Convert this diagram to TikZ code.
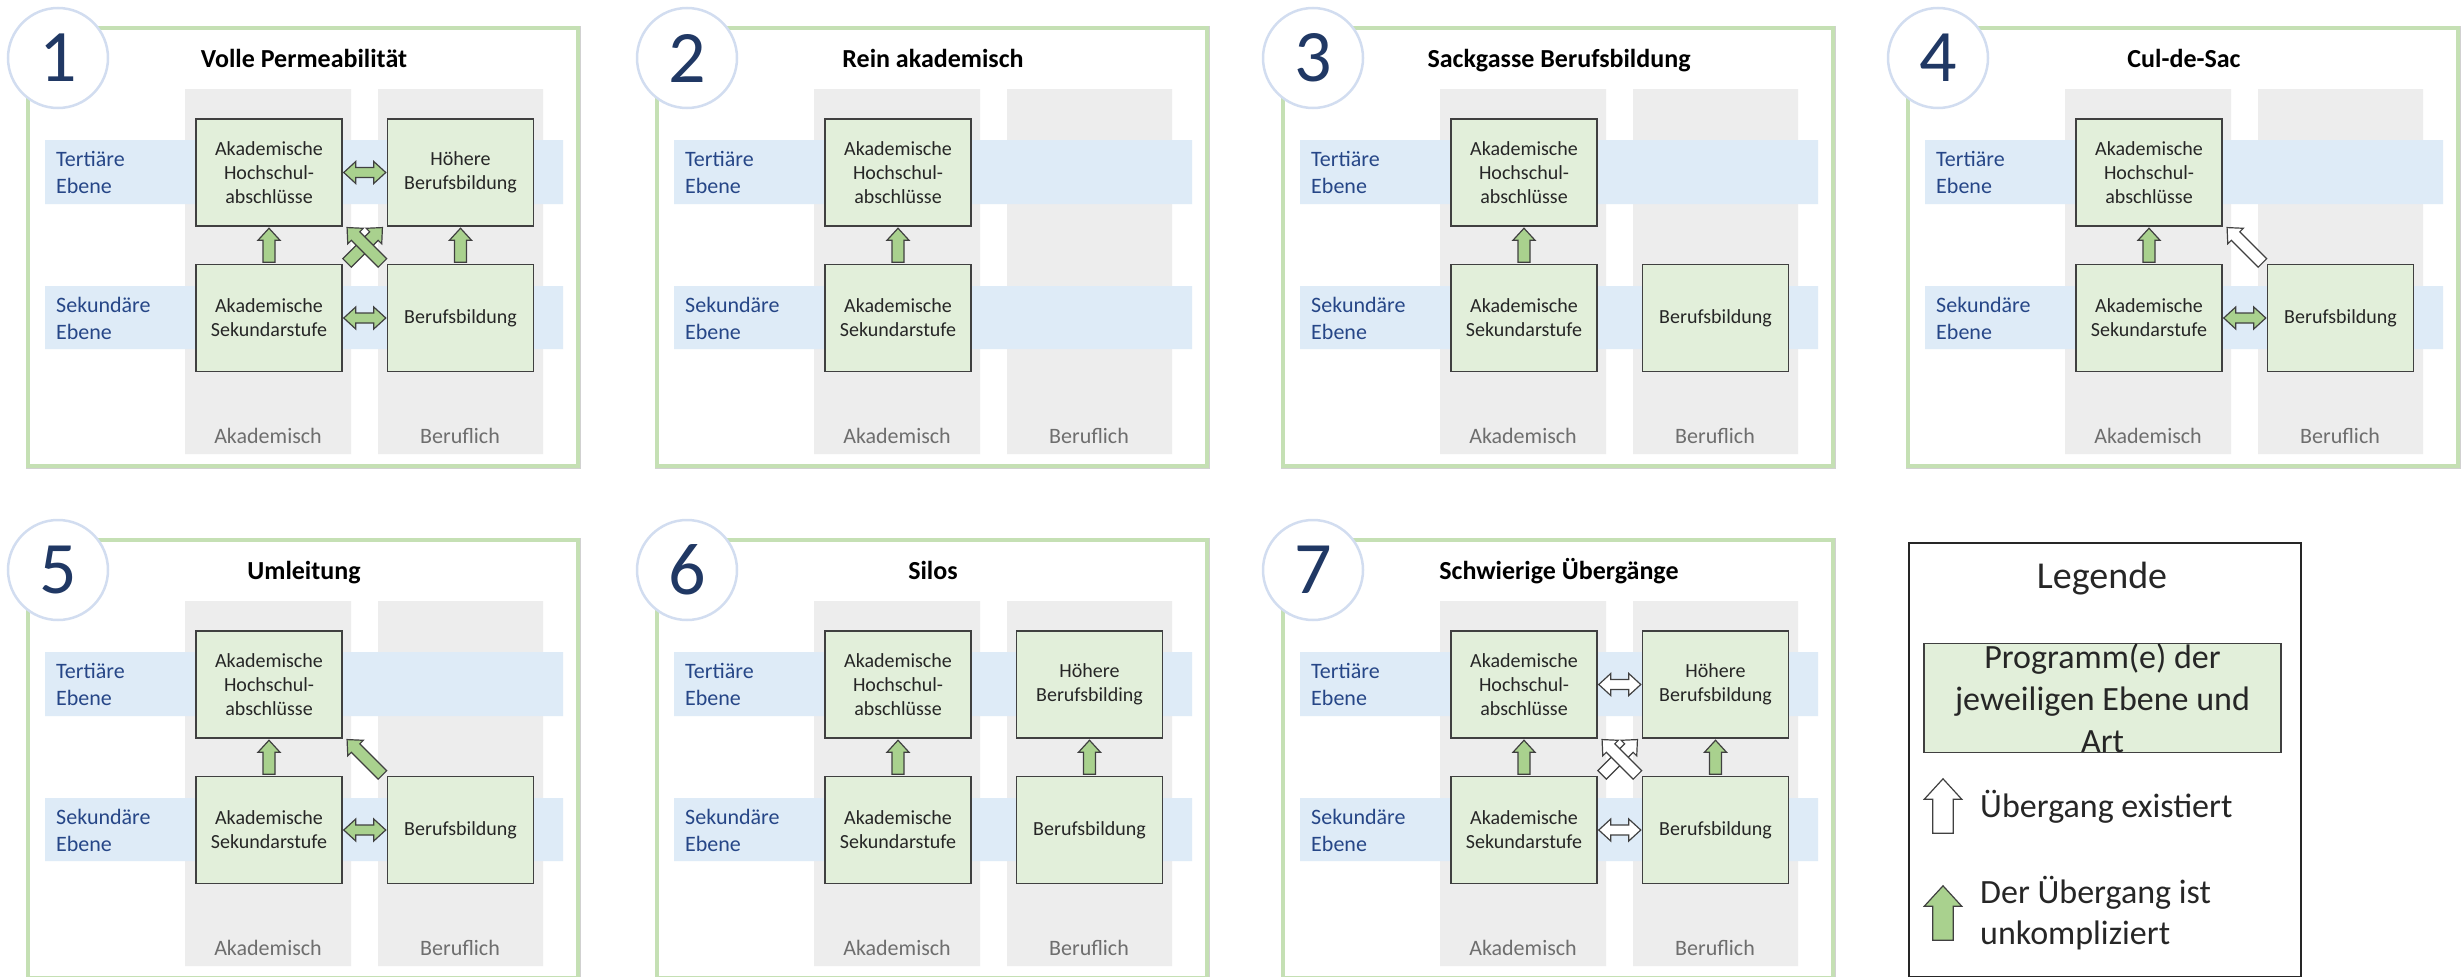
\documentclass[tikz,border=0pt]{standalone}
\usepackage{fontspec}
\setmainfont{Carlito}
\usetikzlibrary{calc}
\definecolor{framegreen}{RGB}{197,224,180}
\definecolor{ringblue}{RGB}{210,221,240}
\definecolor{numblue}{RGB}{32,56,100}
\definecolor{colgray}{RGB}{237,237,237}
\definecolor{bandblue}{RGB}{222,235,247}
\definecolor{levelblue}{RGB}{38,70,135}
\definecolor{progfill}{RGB}{226,239,218}
\definecolor{progline}{RGB}{64,64,64}
\definecolor{arrgreen}{RGB}{169,209,142}
\definecolor{labelgray}{RGB}{110,110,110}
\definecolor{inktext}{RGB}{38,38,38}
\begin{document}
\begin{tikzpicture}[x=1pt, y=-1pt,
    prog/.style={draw=progline, line width=1.5pt, fill=progfill, minimum width=146pt, minimum height=107pt,
        inner sep=0pt, align=center, text=inktext, font=\fontsize{20}{24}\selectfont},
    easy/.style={draw=progline, line width=1.2pt, fill=arrgreen, line join=miter},
    exists/.style={draw=progline, line width=1.2pt, fill=white, line join=miter},
    level/.style={anchor=west, align=left, inner sep=0pt, text=levelblue, font=\fontsize{22}{27}\selectfont},
    coltag/.style={anchor=base, inner sep=0pt, text=labelgray, font=\fontsize{22}{26}\selectfont},
    ptitle/.style={anchor=base, inner sep=0pt, text=black, font=\fontsize{26}{31}\selectfont\bfseries},
    badge/.style={circle, minimum size=100pt, inner sep=0pt, fill=white, draw=ringblue, line width=2.5pt,
        text=numblue, font=\fontsize{74}{74}\selectfont},
    legtext/.style={anchor=west, align=left, inner sep=0pt, text=inktext, font=\fontsize{34}{41}\selectfont},
    onearr/.pic={\path[pic actions] ({-#1/2},-6) -- ({#1/2-12},-6) -- ({#1/2-12},-11) -- ({#1/2},0)
        -- ({#1/2-12},11) -- ({#1/2-12},6) -- ({-#1/2},6) -- cycle;},
    twoarr/.pic={\path[pic actions] ({-#1/2},0) -- ({-#1/2+12},-11) -- ({-#1/2+12},-5) -- ({#1/2-12},-5)
        -- ({#1/2-12},-11) -- ({#1/2},0) -- ({#1/2-12},11) -- ({#1/2-12},5) -- ({-#1/2+12},5)
        -- ({-#1/2+12},11) -- cycle;}]
    \useasboundingbox (0,0) rectangle (2461,977);
    % the seven panels share one layout
    \foreach \n/\px/\py/\ttl in {1/28/28/{Volle Permeabilität}, 2/657/28/{Rein akademisch},
            3/1283/28/{Sackgasse Berufsbildung}, 4/1908/28/{Cul-de-Sac}, 5/28/540/{Umleitung},
            6/657/540/{Silos}, 7/1283/540/{Schwierige Übergänge}} {
        \begin{scope}[shift={(\px,\py)}]
            \coordinate (o\n) at (0,0);
            \draw[black!18, line width=5pt] (0,0) rectangle (550,438);
            \draw[framegreen, line width=3.5pt, fill=white] (0,0) rectangle (550,438);
            \fill[colgray] (157,61) rectangle (323,426) (350,61) rectangle (515,426);
            \fill[bandblue] (17,112) rectangle (535,176) (17,258) rectangle (535,321);
            \node[level] (ter\n) at (28,144) {Tertiäre\\Ebene};
            \node[level] (sek\n) at (28,290) {Sekundäre\\Ebene};
            \node[coltag] (aka\n) at (240,415) {Akademisch};
            \node[coltag] (ber\n) at (432,415) {Beruflich};
            \node[ptitle] (tit\n) at (276,39) {\ttl};
            \node[badge] (num\n) at (30,30) {\n};
            \node[prog] (hs\n) at (241,144.5) {Akademische\\Hochschul-\\abschlüsse};
            \node[prog] (as\n) at (241,290) {Akademische\\Sekundarstufe};
        \end{scope}
        \pic[easy, rotate=90] at ($(as\n.north)!.5!(hs\n.south)$) {onearr=34};
    }
    \foreach \n in {1,3,4,5,6,7}
        \node[prog] (bb\n) at ($(o\n)+(432.5,290)$) {Berufsbildung};
    \foreach \n in {1,7}
        \node[prog] (hb\n) at ($(o\n)+(432.5,144.5)$) {Höhere\\Berufsbildung};
    \node[prog] (hb6) at ($(o6)+(432.5,144.5)$) {Höhere\\Berufsbilding};
    \foreach \n in {1,6,7}
        \pic[easy, rotate=90] at ($(bb\n.north)!.5!(hb\n.south)$) {onearr=34};
    \foreach \n in {1,4,5}
        \pic[easy] at ($(as\n.east)!.5!(bb\n.west)$) {twoarr=42};
    \pic[easy] at ($(hs1.east)!.5!(hb1.west)$) {twoarr=42};
    \pic[easy, rotate=45] at ($(as1.north east)!.5!(hb1.south west)$) {onearr=50};
    \pic[easy, rotate=135] at ($(bb1.north west)!.5!(hs1.south east)$) {onearr=50};
    \pic[exists, rotate=135] at ($(bb4.north west)!.5!(hs4.south east)$) {onearr=50};
    \pic[easy, rotate=135] at ($(bb5.north west)!.5!(hs5.south east)$) {onearr=50};
    \pic[exists] at ($(hs7.east)!.5!(hb7.west)$) {twoarr=42};
    \pic[exists] at ($(as7.east)!.5!(bb7.west)$) {twoarr=42};
    \pic[exists, rotate=45] at ($(as7.north east)!.5!(hb7.south west)$) {onearr=50};
    \pic[exists, rotate=135] at ($(bb7.north west)!.5!(hs7.south east)$) {onearr=50};
    % legend
    \node[draw=inktext, line width=2pt, minimum width=392pt, minimum height=434pt, anchor=north west,
        inner sep=0pt] (legend) at (1908,542) {};
    \node[anchor=base, inner sep=0pt, text=inktext, font=\fontsize{38}{46}\selectfont] (legtitle)
        at (2102,588) {Legende};
    \node[prog, minimum width=357pt, minimum height=108pt, font=\fontsize{34}{42}\selectfont] (legprog)
        at (2102.5,698) {Programm(e) der\\jeweiligen Ebene und\\Art};
    \pic[exists, rotate=90, scale=1.7] at (1943,806) {onearr=32};
    \node[legtext] (legexists) at (1980,807) {Übergang existiert};
    \pic[easy, rotate=90, scale=1.7] at (1943,913) {onearr=32};
    \node[legtext] (legeasy) at (1980,913) {Der Übergang ist\\unkompliziert};
\end{tikzpicture}
\end{document}
